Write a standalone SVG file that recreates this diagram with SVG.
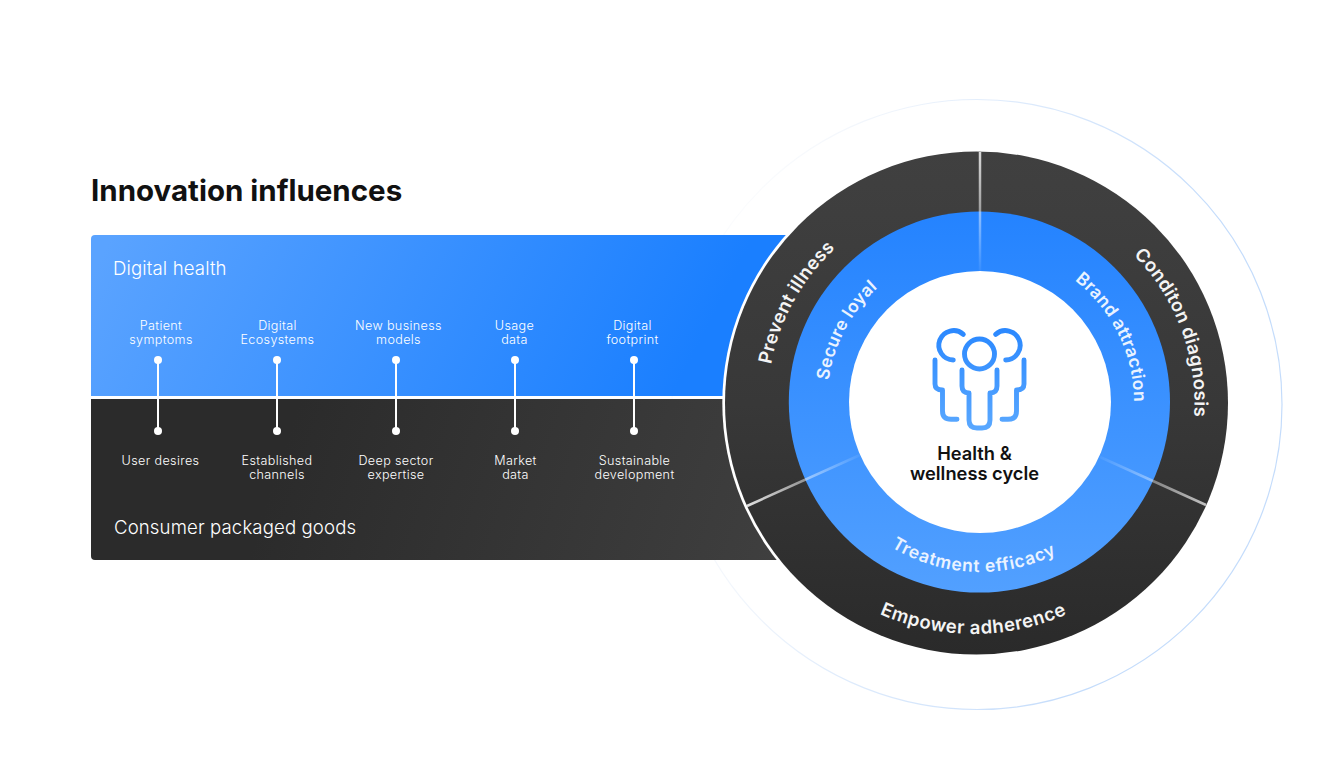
<svg xmlns="http://www.w3.org/2000/svg" width="1320" height="770" viewBox="0 0 1320 770">
<style>
text{font-family:"Inter","Liberation Sans",sans-serif;fill:#fff}
.sm{font-size:12.6px;font-weight:300;letter-spacing:.35px;text-anchor:middle;fill:#fff}
.big{font-size:18.6px;font-weight:300;letter-spacing:.12px}
.ring{font-size:18.5px;font-weight:600;text-anchor:middle;letter-spacing:.3px;fill:#f4f4f4}
.ring2{font-size:17.5px;font-weight:600;text-anchor:middle;letter-spacing:.3px;fill:#eaf3ff}
.ic{fill:none;stroke:url(#gi);stroke-width:4.9;stroke-linecap:round;stroke-linejoin:round}
.dot{fill:#fff}
.stem{stroke:#fff;stroke-width:2}
</style>
<defs>
<linearGradient id="gb" gradientUnits="userSpaceOnUse" x1="130" y1="200" x2="640" y2="460"><stop offset="0" stop-color="#5aa3ff"/><stop offset="1" stop-color="#1a7fff"/></linearGradient>
<linearGradient id="gd" gradientUnits="userSpaceOnUse" x1="300" y1="400" x2="780" y2="560"><stop offset="0" stop-color="#2b2b2b"/><stop offset="1" stop-color="#3f3f3f"/></linearGradient>
<linearGradient id="gr" x1="0" y1="0" x2="0" y2="1"><stop offset="0" stop-color="#404040"/><stop offset=".5" stop-color="#383838"/><stop offset="1" stop-color="#2a2a2a"/></linearGradient>
<linearGradient id="gbr" x1="0" y1="0" x2="0" y2="1"><stop offset="0" stop-color="#2483ff"/><stop offset="1" stop-color="#52a0ff"/></linearGradient>
<linearGradient id="gi" gradientUnits="userSpaceOnUse" x1="0" y1="328" x2="0" y2="430"><stop offset="0" stop-color="#2a88ff"/><stop offset="1" stop-color="#5aa8ff"/></linearGradient>
<linearGradient id="gf" gradientUnits="userSpaceOnUse" x1="720" y1="300" x2="1150" y2="420"><stop offset="0" stop-color="#e9eef6" stop-opacity=".2"/><stop offset=".5" stop-color="#d6e6fb" stop-opacity=".8"/><stop offset="1" stop-color="#c4dcfb"/></linearGradient>
<linearGradient id="s1" gradientUnits="userSpaceOnUse" x1="980" y1="152" x2="980" y2="271"><stop offset="0" stop-color="#fff" stop-opacity=".8"/><stop offset=".5" stop-color="#fff" stop-opacity=".5"/><stop offset="1" stop-color="#fff" stop-opacity=".05"/></linearGradient>
<linearGradient id="s2" gradientUnits="userSpaceOnUse" x1="747" y1="506" x2="860" y2="455"><stop offset="0" stop-color="#fff" stop-opacity=".85"/><stop offset=".55" stop-color="#fff" stop-opacity=".45"/><stop offset="1" stop-color="#fff" stop-opacity=".05"/></linearGradient>
<linearGradient id="s3" gradientUnits="userSpaceOnUse" x1="1206" y1="505" x2="1100" y2="457"><stop offset="0" stop-color="#fff" stop-opacity=".7"/><stop offset=".5" stop-color="#fff" stop-opacity=".4"/><stop offset="1" stop-color="#fff" stop-opacity=".05"/></linearGradient>
<path id="a210" d="M766.5,403 A210,210 0 0 1 1186.5,403"/>
<path id="a154" d="M826,402 A154,154 0 0 1 1134,402"/>
<path id="b170" d="M810,402 A170,170 0 0 0 1150,402"/>
<path id="b231" d="M745.5,403 A231,231 0 0 0 1207.5,403"/>
</defs>

<circle id="halo" cx="977" cy="404.5" r="305" fill="none" stroke="url(#gf)" stroke-width="1.2"/>

<g id="title"><text x="91" y="201" font-size="29.5" font-weight="700" style="fill:#111">Innovation influences</text></g>

<g id="panel-digital-health">
<path d="M95,235 H830 V396 H91 V239 Q91,235 95,235 Z" fill="url(#gb)"/>
<text class="big" x="113" y="275">Digital health</text>
</g>
<g id="panel-consumer-goods">
<path d="M91,399 H830 V560 H95 Q91,560 91,556 Z" fill="url(#gd)"/>
<text class="big" x="114" y="534">Consumer packaged goods</text>
</g>

<g id="connectors">
<line class="stem" x1="158" y1="360" x2="158" y2="431"/>
<line class="stem" x1="277" y1="360" x2="277" y2="431"/>
<line class="stem" x1="396" y1="360" x2="396" y2="431"/>
<line class="stem" x1="515" y1="360" x2="515" y2="431"/>
<line class="stem" x1="634" y1="360" x2="634" y2="431"/>
<circle class="dot" cx="158" cy="360" r="4"/><circle class="dot" cx="158" cy="431" r="4"/>
<circle class="dot" cx="277" cy="360" r="4"/><circle class="dot" cx="277" cy="431" r="4"/>
<circle class="dot" cx="396" cy="360" r="4"/><circle class="dot" cx="396" cy="431" r="4"/>
<circle class="dot" cx="515" cy="360" r="4"/><circle class="dot" cx="515" cy="431" r="4"/>
<circle class="dot" cx="634" cy="360" r="4"/><circle class="dot" cx="634" cy="431" r="4"/>
</g>

<g id="n-patient-symptoms"><text class="sm" x="161" y="330">Patient</text><text class="sm" x="161" y="344">symptoms</text></g>
<g id="n-digital-ecosystems"><text class="sm" x="277.5" y="330">Digital</text><text class="sm" x="277.5" y="344">Ecosystems</text></g>
<g id="n-new-business-models"><text class="sm" x="398.5" y="330">New business</text><text class="sm" x="398.5" y="344">models</text></g>
<g id="n-usage-data"><text class="sm" x="514.5" y="330">Usage</text><text class="sm" x="514.5" y="344">data</text></g>
<g id="n-digital-footprint"><text class="sm" x="632.5" y="330">Digital</text><text class="sm" x="632.5" y="344">footprint</text></g>
<g id="n-user-desires"><text class="sm" x="160.5" y="465">User desires</text></g>
<g id="n-established-channels"><text class="sm" x="277" y="465">Established</text><text class="sm" x="277" y="479">channels</text></g>
<g id="n-deep-sector-expertise"><text class="sm" x="396" y="465">Deep sector</text><text class="sm" x="396" y="479">expertise</text></g>
<g id="n-market-data"><text class="sm" x="515.5" y="465">Market</text><text class="sm" x="515.5" y="479">data</text></g>
<g id="n-sustainable-development"><text class="sm" x="634.5" y="465">Sustainable</text><text class="sm" x="634.5" y="479">development</text></g>

<g id="wheel">
<circle cx="976.5" cy="403" r="254.2" fill="#fff"/>
<circle cx="976.5" cy="403" r="251.5" fill="url(#gr)"/>
<circle cx="979.4" cy="402" r="190.6" fill="url(#gbr)"/>
<circle cx="980" cy="402" r="131" fill="#fff"/>
<line x1="980" y1="152" x2="980" y2="271" stroke="url(#s1)" stroke-width="2.5"/>
<line x1="747" y1="506" x2="860" y2="455" stroke="url(#s2)" stroke-width="2.5"/>
<line x1="1206" y1="505" x2="1100" y2="457" stroke="url(#s3)" stroke-width="2.5"/>
</g>

<g id="n-prevent-illness"><text class="ring" transform="translate(1 0) rotate(-61 976.5 403)"><textPath href="#a210" startOffset="50%">Prevent illness</textPath></text></g>
<g id="n-condition-diagnosis"><text class="ring" transform="translate(8 0) rotate(69.5 976.5 403)"><textPath href="#a210" startOffset="50%">Conditon diagnosis</textPath></text></g>
<g id="n-empower-adherence"><text class="ring" style="letter-spacing:.55px" transform="translate(-3 0)"><textPath href="#b231" startOffset="50%">Empower adherence</textPath></text></g>
<g id="n-secure-loyal"><text class="ring2" transform="translate(1 0) rotate(-62 980 402)"><textPath href="#a154" startOffset="50%">Secure loyal</textPath></text></g>
<g id="n-brand-attraction"><text class="ring2" transform="rotate(64 980 402)"><textPath href="#a154" startOffset="50%">Brand attraction</textPath></text></g>
<g id="n-treatment-efficacy"><text class="ring2" style="letter-spacing:.75px"><textPath href="#b170" startOffset="48.7%">Treatment efficacy</textPath></text></g>

<g id="n-center">
<circle class="ic" cx="979.5" cy="354" r="15"/>
<path class="ic" d="M963.3,334.3 A14.7,14.7 0 1 0 953.3,360"/>
<path class="ic" d="M995.7,334.3 A14.7,14.7 0 1 1 1005.7,360"/>
<path class="ic" d="M935,360 V384 Q935,390 942.5,390 V411 Q942.5,419.3 951,419.3 H957"/>
<path class="ic" d="M1024,360 V384 Q1024,390 1016.5,390 V411 Q1016.5,419.3 1008,419.3 H1002"/>
<path class="ic" d="M962,370 V386 Q962,393 969,393 V420 Q969,428 977,428 H982 Q990,428 990,420 V393 Q997,393 997,386 V370"/>
<text x="974.5" y="460" font-size="18.3" font-weight="600" text-anchor="middle" style="fill:#111">Health &amp;</text>
<text x="974.5" y="480" font-size="18.3" font-weight="600" text-anchor="middle" style="fill:#111">wellness cycle</text>
</g>
</svg>
